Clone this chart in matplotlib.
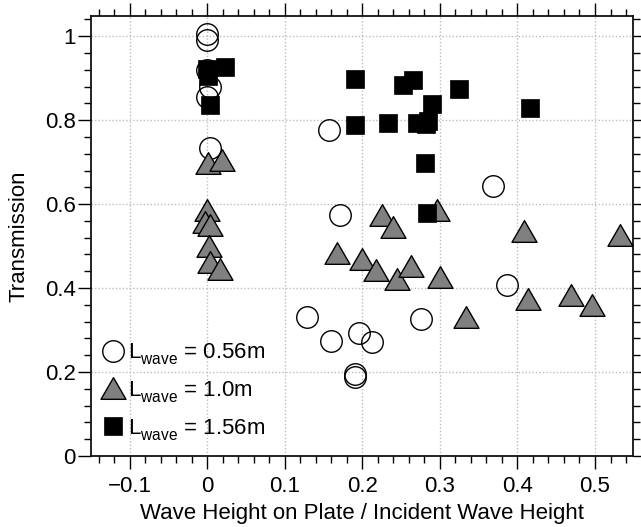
import matplotlib
matplotlib.use("Agg")
import matplotlib.pyplot as plt
from matplotlib.path import Path
from matplotlib.ticker import MultipleLocator, FuncFormatter
import matplotlib._mathtext as _mt

plt.rcParams['font.family'] = ['Liberation Sans', 'DejaVu Sans']
plt.rcParams['font.size'] = 16
plt.rcParams['mathtext.fontset'] = 'custom'
plt.rcParams['mathtext.rm'] = 'Liberation Sans'
plt.rcParams['mathtext.it'] = 'Liberation Sans:italic'
plt.rcParams['mathtext.bf'] = 'Liberation Sans:bold'
# deeper subscript like the reference
try:
    _mt.FontConstantsBase.sub1 = 0.55
    _mt.FontConstantsBase.sub2 = 0.7
except Exception:
    pass

# ---- data ----
circ_x = [0.0, 0.0, 0.0, 0.003, 0.0, 0.004, 0.157, 0.171, 0.368, 0.387,
          0.128, 0.159, 0.196, 0.213, 0.19, 0.19, 0.275]
circ_y = [1.006, 0.992, 0.919, 0.879, 0.854, 0.733, 0.776, 0.575, 0.643, 0.407,
          0.332, 0.274, 0.292, 0.272, 0.195, 0.187, 0.326]

tri_x = [0.0, -0.003, 0.003, 0.002, 0.004, 0.017, 0.001, 0.019, 0.225, 0.239,
         0.296, 0.167, 0.2, 0.218, 0.245, 0.263, 0.3, 0.408, 0.532, 0.413,
         0.469, 0.496, 0.334]
tri_y = [0.586, 0.558, 0.55, 0.5, 0.463, 0.445, 0.697, 0.706, 0.573, 0.546,
         0.587, 0.483, 0.469, 0.443, 0.421, 0.452, 0.427, 0.536, 0.526, 0.375,
         0.383, 0.36, 0.332]

sq_x = [0.0, 0.001, 0.023, 0.004, 0.191, 0.191, 0.233, 0.253, 0.265, 0.324,
        0.29, 0.271, 0.285, 0.282, 0.281, 0.283, 0.416]
sq_y = [0.921, 0.905, 0.927, 0.836, 0.897, 0.788, 0.792, 0.883, 0.895, 0.873,
        0.838, 0.794, 0.798, 0.79, 0.698, 0.578, 0.83]

labels = [r'L$_{\mathrm{wave}}$ = 0.56m', r'L$_{\mathrm{wave}}$ = 1.0m',
          r'L$_{\mathrm{wave}}$ = 1.56m']
xlabel = 'Wave Height on Plate / Incident Wave Height'
ylabel = 'Transmission'

# ---- figure ----
fig = plt.figure(figsize=(6.41, 5.27), dpi=100)
ax = fig.add_axes([91 / 641, 71 / 527, 542 / 641, 440 / 527])

tri_marker = Path([(0, 0.866), (-1, -0.866), (1, -0.866), (0, 0.866)],
                  [Path.MOVETO, Path.LINETO, Path.LINETO, Path.CLOSEPOLY])

ax.plot(circ_x, circ_y, linestyle='none', marker='o', ms=15.5,
        mfc='none', mec='black', mew=1.0, label=labels[0], zorder=3)
ax.plot(tri_x, tri_y, linestyle='none', marker=tri_marker, ms=18,
        mfc='#808080', mec='black', mew=1.0, label=labels[1], zorder=4)
ax.plot(sq_x, sq_y, linestyle='none', marker='s', ms=13,
        mfc='black', mec='black', mew=0.5, label=labels[2], zorder=5)

ax.set_xlim(-0.15, 0.549)
ax.set_ylim(0, 1.048)

ax.xaxis.set_major_locator(MultipleLocator(0.1))
ax.xaxis.set_minor_locator(MultipleLocator(0.02))
ax.yaxis.set_major_locator(MultipleLocator(0.2))
ax.yaxis.set_minor_locator(MultipleLocator(0.04))
fmt = FuncFormatter(lambda v, p: ('%g' % round(v, 6)).replace('-', '\u2212'))
ax.xaxis.set_major_formatter(fmt)
ax.yaxis.set_major_formatter(fmt)

ax.tick_params(which='both', direction='out', top=True, right=True,
               labeltop=False, labelright=False, width=1.0, color='black')
ax.tick_params(which='major', length=9.5, pad=5)
ax.tick_params(which='minor', length=5)
ax.tick_params(axis='y', which='major', pad=1.5)

for s in ax.spines.values():
    s.set_linewidth(1.3)
    s.set_color('#111111')

ax.grid(True, which='major', linestyle=(0, (1, 1.5)), color='#bdbdbd', linewidth=1.0)
ax.set_axisbelow(True)

ax.set_xlabel(xlabel, labelpad=4)
ax.set_ylabel(ylabel, labelpad=11)

ax.legend(loc='lower left', bbox_to_anchor=(-0.008, -0.005), frameon=False,
          handlelength=1.0, handletextpad=0.15, labelspacing=0.55,
          borderaxespad=0.3, fontsize=16)

fig.savefig('out.png', dpi=100)
